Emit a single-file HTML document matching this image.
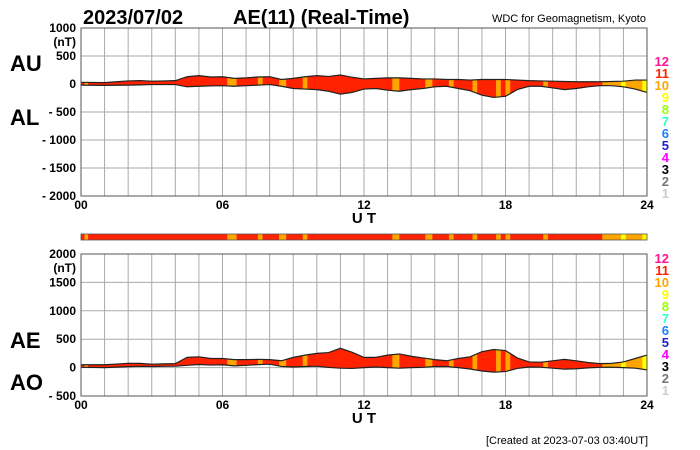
<!DOCTYPE html>
<html><head><meta charset="utf-8"><style>
html,body{margin:0;padding:0;background:#fff;}
svg{display:block;font-family:"Liberation Sans",sans-serif;}
</style></head><body>
<svg id="c" width="700" height="450" viewBox="0 0 700 450">
<text x="83" y="24" font-size="20" font-weight="bold">2023/07/02</text>
<text x="233" y="24" font-size="20" font-weight="bold">AE(11) (Real-Time)</text>
<text x="646" y="22" font-size="11" text-anchor="end">WDC for Geomagnetism, Kyoto</text>
<text x="10" y="71" font-size="22" font-weight="bold">AU</text>
<text x="10" y="125" font-size="22" font-weight="bold">AL</text>
<text x="10" y="348" font-size="22" font-weight="bold">AE</text>
<text x="10" y="390" font-size="22" font-weight="bold">AO</text>
<text x="648" y="444" font-size="11" text-anchor="end">[Created at 2023-07-03 03:40UT]</text>
<g id="top"></g>
<g id="bar"></g>
<g id="bot"></g>
</svg>
<script>
// half-hourly values, 0h..24h (49 points)
const hours = [0,0.5,1,1.5,2,2.5,3,3.5,4,4.5,5,5.5,6,6.5,7,7.5,8,8.5,9,9.5,10,10.5,11,11.5,12,12.5,13,13.5,14,14.5,15,15.5,16,16.5,17,17.5,18,18.5,19,19.5,20,20.5,21,21.5,22,22.5,23,23.5,24];
const auValues = [30,28,25,40,55,60,50,55,60,130,150,125,130,100,110,125,130,80,100,130,150,135,160,120,90,100,110,110,100,90,90,80,80,70,80,80,80,70,60,55,50,45,40,40,40,45,50,70,70];
const alValues = [-20,-22,-25,-22,-20,-15,-10,-10,-10,-50,-40,-35,-30,-40,-30,-20,-10,-40,-80,-90,-100,-130,-180,-150,-90,-80,-110,-130,-100,-80,-50,-40,-80,-120,-200,-240,-220,-100,-40,-40,-70,-100,-80,-50,-30,-30,-50,-90,-150];
// station-count segments (start hour, count)
const segStarts = [0,0.15,0.3,6.2,6.6,7.5,7.7,8.4,8.7,9.4,9.6,13.2,13.5,14.6,14.9,15.6,15.8,16.6,16.8,17.6,17.8,18.0,18.2,19.6,19.8,22.1,22.9,23.1,23.8];
const segCounts = [11,10,11,10,11,10,11,10,11,10,11,10,11,10,11,10,11,10,11,10,11,10,11,10,11,10,9,10,9];
const topTicks = [1000,500,0,-500,-1000,-1500,-2000];
const botTicks = [2000,1500,1000,500,0,-500];
const xTicks = ['00','06','12','18','24'];
const legendNums = ['12','11','10','9','8','7','6','5','4','3','2','1'];
const legendColors = ['#ff1493','#ff2200','#ffa500','#ffff00','#99ff00','#33ffcc','#1e7fff','#2020d0','#ff00ff','#000','#777','#ccc'];
const countColor = {9:'#ffff00',10:'#ffa500',11:'#ff2200',12:'#ff1493'};

const NS='http://www.w3.org/2000/svg';
const X0=81, X1=647;
const xs = h => X0 + (X1-X0)*h/24;
function mk(tag, attrs, parent){const e=document.createElementNS(NS,tag);for(const k in attrs)e.setAttribute(k,attrs[k]);parent.appendChild(e);return e;}

function panel(g, id, top, bot, vmax, vmin, ticks, upper, lower, legendTop){
  const ys = v => top + (vmax-v)/(vmax-vmin)*(bot-top);
  for(let h=1;h<24;h++){const l=mk('line',{x1:xs(h),x2:xs(h),y1:top,y2:bot,stroke:'#aaa','stroke-width':1},g);
    }
  ticks.forEach((t,i)=>{
    if(t!==vmax && t!==vmin){const l=mk('line',{x1:X0,x2:X1,y1:ys(t),y2:ys(t),stroke:'#aaa','stroke-width':1},g);
      }
    const tx=mk('text',{x:76,y:ys(t)+4,'font-size':12,'font-weight':'bold','text-anchor':'end'},g);
    tx.textContent = t<0 ? '- '+(-t) : String(t);
    
  });
  const nt=mk('text',{x:76,y:ys(vmax)+18,'font-size':12,'font-weight':'bold','text-anchor':'end'},g);
  nt.textContent='(nT)';
  
  let pts=hours.map((h,i)=>xs(h)+','+ys(upper[i]));
  pts=pts.concat(hours.slice().reverse().map((h,j)=>{const i=hours.length-1-j;return xs(h)+','+ys(lower[i]);}));
  const cp=mk('clipPath',{id:'clip'+id},g);mk('polygon',{points:pts.join(' ')},cp);
  const fg=mk('g',{'clip-path':'url(#clip'+id+')'},g);
  
  segStarts.forEach((s,i)=>{const e=i+1<segStarts.length?segStarts[i+1]:24;
    const r=mk('rect',{x:xs(s),y:top,width:xs(e)-xs(s)+0.3,height:bot-top,fill:countColor[segCounts[i]]},fg);
    });
  const l1=mk('polyline',{points:hours.map((h,i)=>xs(h)+','+ys(upper[i])).join(' '),fill:'none',stroke:'#222','stroke-width':1.2},g);
  
  const l2=mk('polyline',{points:hours.map((h,i)=>xs(h)+','+ys(lower[i])).join(' '),fill:'none',stroke:'#222','stroke-width':1.2},g);
  
  const fr=mk('rect',{x:X0,y:top,width:X1-X0,height:bot-top,fill:'none',stroke:'#555','stroke-width':1},g);
  
  xTicks.forEach((t,i)=>{const tx=mk('text',{x:xs(i*6),y:bot+13,'font-size':12,'font-weight':'bold','text-anchor':'middle'},g);
    tx.textContent=t;});
  const ut=mk('text',{x:xs(12),y:bot+27,'font-size':15,'font-weight':'bold','text-anchor':'middle'},g);
  ut.textContent='U T';
  legendNums.forEach((n,i)=>{const tx=mk('text',{x:669,y:legendTop+i*12+5,'font-size':13,'font-weight':'bold','text-anchor':'end',fill:legendColors[i]},g);
    tx.textContent=n;});
}
const aeValues = auValues.map((u,i)=>u-alValues[i]);
const aoValues = auValues.map((u,i)=>(u+alValues[i])/2);
panel(document.getElementById('top'),'t',28,196,1000,-2000,topTicks,auValues,alValues,61);
panel(document.getElementById('bot'),'b',254,396,2000,-500,botTicks,aeValues,aoValues,258);
const bg=document.getElementById('bar');
segStarts.forEach((s,i)=>{const e=i+1<segStarts.length?segStarts[i+1]:24;
  const r=mk('rect',{x:xs(s),y:234,width:xs(e)-xs(s)+0.3,height:6,fill:countColor[segCounts[i]]},bg);
  });
const bf=mk('rect',{x:X0,y:234,width:X1-X0,height:6,fill:'none',stroke:'#555','stroke-width':0.8},bg);

</script>
</body></html>
